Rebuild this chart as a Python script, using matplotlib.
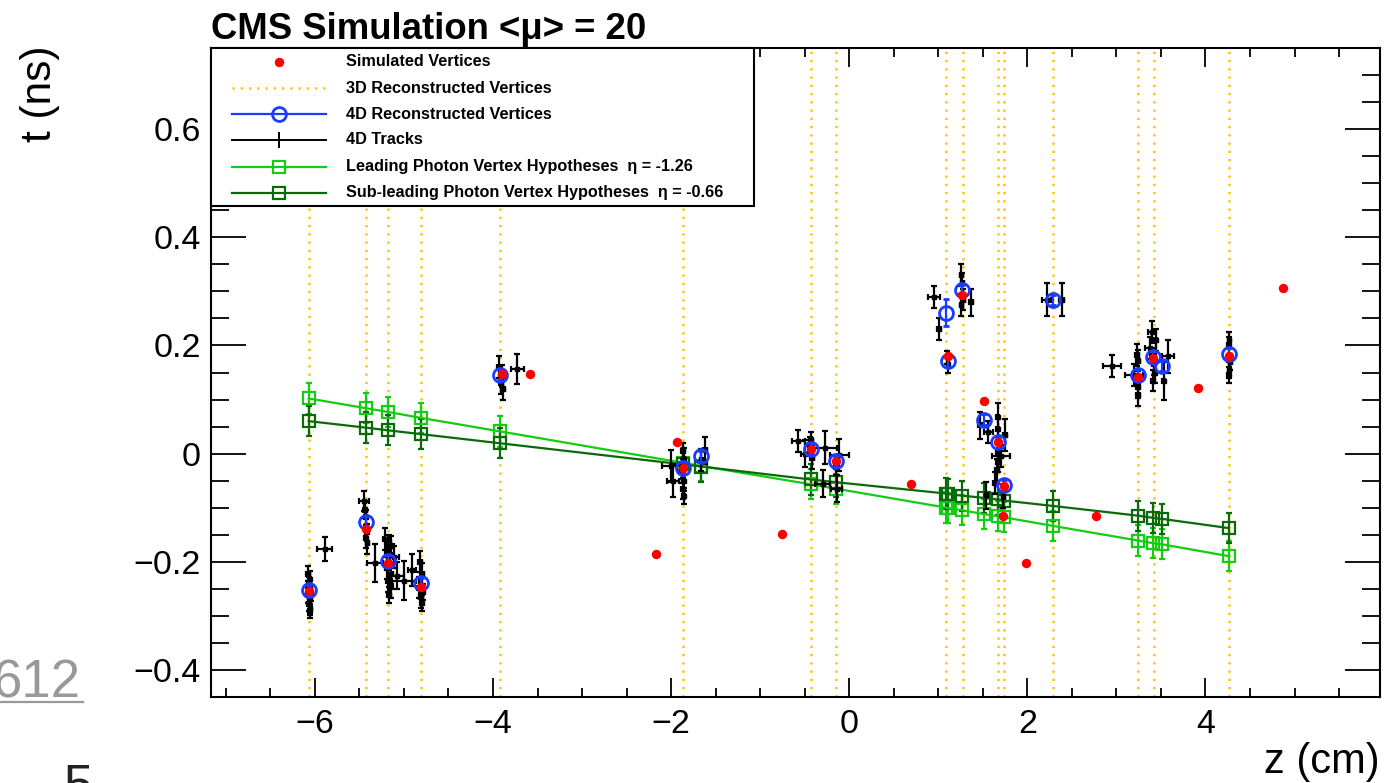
import matplotlib
matplotlib.use("Agg")
import matplotlib.pyplot as plt
from matplotlib.lines import Line2D
from matplotlib.patches import Rectangle
from matplotlib.ticker import MultipleLocator

plt.rcParams['font.family'] = ['Liberation Sans', 'DejaVu Sans']

# Simulated vertices (z cm, t ns)
sim_z = [-6.07, -5.43, -5.18, -4.81, -3.90, -3.58, -1.93, -1.87, -2.17, -0.43,
         -0.15, -0.76, 0.69, 1.11, 1.27, 1.51, 1.667, 1.74, 1.73, 1.98,
         2.77, 3.245, 3.413, 3.92, 4.266, 4.87]
sim_t = [-0.255, -0.139, -0.203, -0.247, 0.148, 0.148, 0.021, -0.026, -0.185, 0.009,
         -0.014, -0.149, -0.056, 0.181, 0.293, 0.097, 0.021, -0.060, -0.116, -0.203,
         -0.116, 0.142, 0.177, 0.122, 0.180, 0.307]

# 3D reconstructed vertices (z only)
vtx3d_z = [-6.07, -5.43, -5.18, -4.81, -3.92, -1.87, -0.43, -0.15, 1.086, 1.28,
           1.673, 1.737, 2.29, 3.245, 3.42, 4.266]

# 4D reconstructed vertices
vtx4d_z = [-6.07, -5.43, -5.18, -4.81, -3.92, -1.87, -1.663, -0.43, -0.15, 1.086,
           1.11, 1.27, 1.51, 1.667, 1.74, 2.29, 3.245, 3.413, 3.515, 4.266]
vtx4d_t = [-0.253, -0.126, -0.198, -0.240, 0.146, -0.026, -0.005, 0.009, -0.014, 0.261,
           0.171, 0.302, 0.063, 0.021, -0.059, 0.284, 0.146, 0.179, 0.162, 0.185]
vtx4d_terr = [0.01, 0.01, 0.01, 0.01, 0.01, 0.01, 0.01, 0.01, 0.01, 0.025,
              0.01, 0.01, 0.01, 0.01, 0.01, 0.01, 0.01, 0.01, 0.01, 0.01]

# Photon vertex hypotheses
lead_t = [0.102, 0.084, 0.077, 0.066, 0.041, -0.017, -0.023, -0.057, -0.065, -0.100,
          -0.101, -0.105, -0.112, -0.116, -0.118, -0.134, -0.161, -0.166, -0.168, -0.190]
sub_t = [0.060, 0.048, 0.043, 0.036, 0.019, -0.020, -0.024, -0.048, -0.053, -0.074,
         -0.075, -0.078, -0.082, -0.085, -0.087, -0.097, -0.115, -0.119, -0.121, -0.138]
hyp_terr = 0.028

# 4D tracks
trk_z = [-6.08, -6.06, -6.07, -6.05, -6.08, -6.06, -6.04, -6.07, -6.05, -6.06, -5.89,
         -5.45, -5.44, -5.43, -5.42, -5.43, -5.41,
         -5.21, -5.17, -5.14, -5.19, -5.16, -5.11, -5.32, -5.19, -5.15, -5.18, -5.15, -5.17,
         -5.00, -4.91, -5.08,
         -4.82, -4.80, -4.83, -4.79, -4.81, -4.80,
         -3.93, -3.90, -3.91, -3.89, -3.725,
         -1.87, -1.86, -1.88, -1.86, -1.87, -1.86, -2.00, -1.98,
         -1.62, -1.66,
         -0.57, -0.50, -0.43, -0.42, -0.44, -0.27, -0.30,
         -0.11, -0.14, -0.15,
         0.95, 1.01, 1.11, 1.10,
         1.26, 1.27, 1.28, 1.26, 1.37,
         1.47, 1.56, 1.54,
         1.667, 1.667, 1.667, 1.70, 1.667, 1.66, 1.64,
         1.75, 1.73,
         2.22, 2.385, 2.95,
         3.245, 3.24, 3.245, 3.20, 3.23,
         3.40, 3.44, 3.38, 3.42, 3.43, 3.41,
         3.58, 3.53,
         4.27, 4.26, 4.28, 4.27, 4.26]
trk_t = [-0.222, -0.232, -0.242, -0.250, -0.262, -0.268, -0.258, -0.278, -0.285, -0.292, -0.177,
         -0.088, -0.105, -0.118, -0.146, -0.156, -0.165,
         -0.158, -0.165, -0.172, -0.182, -0.188, -0.192, -0.203, -0.212, -0.222, -0.236, -0.247, -0.262,
         -0.235, -0.215, -0.226,
         -0.200, -0.222, -0.248, -0.256, -0.266, -0.276,
         0.160, 0.143, 0.130, 0.120, 0.156,
         0.005, -0.010, -0.035, -0.050, -0.065, -0.078, -0.023, -0.050,
         0.006, -0.012,
         0.023, 0.000, 0.025, -0.008, 0.015, 0.011, -0.056,
         -0.003, -0.065, -0.025,
         0.290, 0.231, 0.165, 0.178,
         0.330, 0.315, 0.285, 0.275, 0.280,
         0.052, 0.040, -0.077,
         0.068, 0.045, 0.000, -0.005, -0.015, -0.031, -0.055,
         0.034, -0.080,
         0.285, 0.285, 0.162,
         0.172, 0.123, 0.108, 0.145, 0.182,
         0.225, 0.210, 0.195, 0.165, 0.150, 0.135,
         0.180, 0.135,
         0.210, 0.200, 0.170, 0.155, 0.145]
trk_zerr = [0.02, 0.02, 0.02, 0.02, 0.02, 0.02, 0.02, 0.02, 0.02, 0.02, 0.085,
            0.055, 0.02, 0.02, 0.02, 0.02, 0.015,
            0.03, 0.02, 0.03, 0.02, 0.025, 0.05, 0.09, 0.02, 0.03, 0.02, 0.02, 0.02,
            0.13, 0.05, 0.08,
            0.02, 0.02, 0.02, 0.02, 0.02, 0.015,
            0.02, 0.02, 0.02, 0.02, 0.075,
            0.02, 0.02, 0.02, 0.02, 0.015, 0.015, 0.10, 0.07,
            0.02, 0.02,
            0.075, 0.04, 0.02, 0.02, 0.02, 0.13, 0.08,
            0.11, 0.06, 0.02,
            0.07, 0.02, 0.015, 0.015,
            0.02, 0.02, 0.02, 0.02, 0.02,
            0.02, 0.05, 0.02,
            0.02, 0.02, 0.02, 0.10, 0.02, 0.02, 0.02,
            0.02, 0.02,
            0.05, 0.03, 0.10,
            0.02, 0.02, 0.02, 0.10, 0.02,
            0.05, 0.02, 0.06, 0.02, 0.02, 0.02,
            0.065, 0.02,
            0.015, 0.015, 0.015, 0.015, 0.015]
trk_terr = [0.013, 0.014, 0.013, 0.015, 0.014, 0.013, 0.015, 0.013, 0.014, 0.013, 0.022,
            0.018, 0.015, 0.014, 0.015, 0.018, 0.020,
            0.020, 0.015, 0.020, 0.020, 0.020, 0.020, 0.035, 0.020, 0.020, 0.020, 0.020, 0.015,
            0.036, 0.030, 0.025,
            0.020, 0.020, 0.020, 0.015, 0.020, 0.015,
            0.020, 0.020, 0.020, 0.020, 0.028,
            0.015, 0.020, 0.020, 0.020, 0.020, 0.015, 0.030, 0.030,
            0.025, 0.020,
            0.020, 0.025, 0.015, 0.020, 0.015, 0.030, 0.025,
            0.030, 0.025, 0.015,
            0.020, 0.020, 0.015, 0.012,
            0.020, 0.020, 0.020, 0.020, 0.025,
            0.025, 0.020, 0.025,
            0.025, 0.020, 0.020, 0.020, 0.020, 0.020, 0.020,
            0.030, 0.020,
            0.030, 0.030, 0.020,
            0.020, 0.020, 0.020, 0.020, 0.020,
            0.020, 0.020, 0.020, 0.020, 0.020, 0.020,
            0.030, 0.035,
            0.015, 0.015, 0.015, 0.015, 0.015]

lead_label = 'Leading Photon Vertex Hypotheses  η = -1.26'
sub_label = 'Sub-leading Photon Vertex Hypotheses  η = -0.66'

c_gold = '#ffc400'
c_blue = '#1a3cff'
c_lead = '#14cc14'
c_sub = '#0a6a0a'

W, H = 1397, 783
fig = plt.figure(figsize=(W / 100, H / 100), dpi=100)
ax = fig.add_axes([210.7 / W, 1 - 696.7 / H, (1380 - 210.7) / W, (696.7 - 48.3) / H])
ax.set_xlim(-7.17, 5.96)
ax.set_ylim(-0.45, 0.75)

dots = (0, (0.9, 2.4))

# 3D vertices as dotted vertical lines
for z in vtx3d_z:
    ax.axvline(z, color=c_gold, lw=1.8, ls=dots, zorder=1)

# photon hypotheses
ax.errorbar(vtx4d_z, lead_t, yerr=hyp_terr, fmt='-s', color=c_lead, mfc='none', mec=c_lead,
            ms=8.5, mew=1.6, lw=1.6, elinewidth=1.6, capsize=2.2, capthick=1.6, zorder=2)
ax.errorbar(vtx4d_z, sub_t, yerr=hyp_terr, fmt='-s', color=c_sub, mfc='none', mec=c_sub,
            ms=8.5, mew=1.6, lw=1.6, elinewidth=1.6, capsize=2.2, capthick=1.6, zorder=2)

# tracks
ax.errorbar(trk_z, trk_t, xerr=trk_zerr, yerr=trk_terr, fmt='s', color='black', ms=3.2,
            elinewidth=1.6, capsize=2.2, capthick=1.6, zorder=3)

# 4D vertices
ax.errorbar(vtx4d_z, vtx4d_t, yerr=vtx4d_terr, fmt='o', color=c_blue, mfc='none', ms=10,
            mew=2.0, elinewidth=1.6, capsize=2.2, capthick=1.6, zorder=4)

# simulated vertices
ax.plot(sim_z, sim_t, 'o', color='red', ms=6.8, mec='none', zorder=5)

# axes style
for s in ax.spines.values():
    s.set_linewidth(1.5)
ax.xaxis.set_major_locator(MultipleLocator(2))
ax.xaxis.set_minor_locator(MultipleLocator(0.5))
ax.yaxis.set_major_locator(MultipleLocator(0.2))
ax.yaxis.set_minor_locator(MultipleLocator(0.05))
ax.tick_params(axis='both', which='both', direction='in', top=True, right=True, width=1.3,
               labelsize=24.5)
ax.tick_params(axis='x', which='major', length=13.5, pad=9)
ax.tick_params(axis='x', which='minor', length=6.5)
ax.tick_params(axis='y', which='major', length=25, pad=7)
ax.tick_params(axis='y', which='minor', length=13)
ax.set_yticks([-0.4, -0.2, 0, 0.2, 0.4, 0.6])
ax.set_yticklabels(['\u22120.4', '\u22120.2', '0', '0.2', '0.4', '0.6'])
ax.set_xticks([-6, -4, -2, 0, 2, 4])
ax.set_xticklabels(['\u22126', '\u22124', '\u22122', '0', '2', '4'])

# legend box drawn by hand (ROOT style)
def px(x, y):
    return ((x - 210.7) / (1380 - 210.7), 1 - (y - 48.3) / (696.7 - 48.3))

x0, y0 = px(210.7, 206)
x1, _ = px(754, 48.3)
ax.add_patch(Rectangle((x0, y0), x1 - x0, 1 - y0, transform=ax.transAxes, fc='white',
                       ec='black', lw=1.5, zorder=10, clip_on=False))
entries = [
    ('Simulated Vertices', dict(ls='none', marker='o', color='red', ms=6.8, mec='none')),
    ('3D Reconstructed Vertices', dict(ls=dots, color=c_gold, lw=1.8)),
    ('4D Reconstructed Vertices', dict(color=c_blue, lw=1.6, marker='o', mfc='none', ms=10, mew=2.0)),
    ('4D Tracks', dict(color='black', lw=1.4, marker='|', ms=12, mew=1.4)),
    (lead_label, dict(color=c_lead, lw=1.6, marker='s', mfc='none', ms=8.5, mew=1.6)),
    (sub_label, dict(color=c_sub, lw=1.6, marker='s', mfc='none', ms=8.5, mew=1.6)),
]
ys = [61.7, 88.3, 114.3, 140.0, 166.7, 192.7]
for (lab, kw), yy in zip(entries, ys):
    xa, ya = px(232, yy)
    xb, _ = px(326, yy)
    xm, _ = px(279, yy)
    if kw.get('ls') == 'none':
        ax.add_line(Line2D([xm], [ya], transform=ax.transAxes, zorder=11, clip_on=False, **kw))
    else:
        mk = kw.pop('marker', None)
        ax.add_line(Line2D([xa, xb], [ya, ya], transform=ax.transAxes, zorder=11,
                           clip_on=False, **kw))
        if mk is not None:
            kw2 = {k: v for k, v in kw.items() if k not in ('ls', 'lw')}
            ax.add_line(Line2D([xm], [ya], marker=mk, ls='none', transform=ax.transAxes,
                               zorder=12, clip_on=False, **kw2))
    xt, _ = px(346, yy)
    ax.text(xt, ya, lab, transform=ax.transAxes, fontsize=11.7, fontweight='bold',
            ha='left', va='center', zorder=12)

# titles and axis labels
fig.text(210.7 / W, 1 - 39 / H, 'CMS Simulation <μ> = 20', fontsize=26.3, fontweight='bold',
         ha='left', va='baseline')
fig.text(1380 / W, 1 - 773 / H, 'z (cm)', fontsize=30, ha='right', va='baseline')
fig.text(40 / W, 1 - 45 / H, 't (ns)', fontsize=30.5, rotation=90, ha='center', va='top')

# page remnants around the figure
fig.text(-8 / W, 1 - 697 / H, '612', fontsize=38, color='#999999', ha='left', va='baseline')
fig.add_artist(Line2D([0, 83 / W], [1 - 702 / H, 1 - 702 / H], color='#999999', lw=1.6,
                      transform=fig.transFigure))
fig.text(64 / W, 1 - 801 / H, '5', fontsize=38, color='#222222', ha='left', va='baseline')

fig.savefig('out.png', dpi=100)
